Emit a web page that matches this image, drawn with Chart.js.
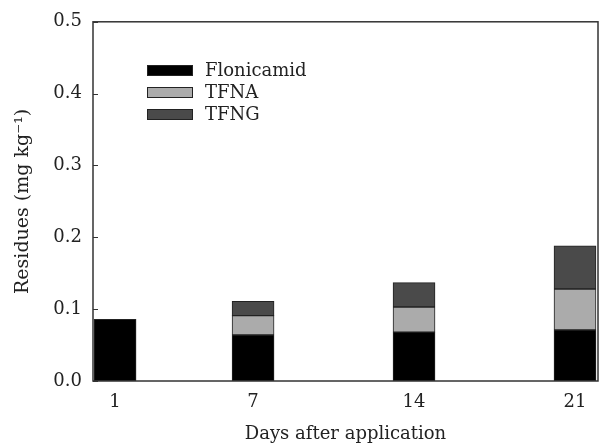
<!DOCTYPE html>
<html>
<head>
<meta charset="utf-8">
<script src="https://cdn.jsdelivr.net/npm/chart.js@4/dist/chart.umd.min.js"></script>
<style>
html,body{margin:0;padding:0;background:#fff;}
#wrap{width:604px;height:445px;}
</style>
</head>
<body>
<div id="wrap"><canvas id="c" width="604" height="445"></canvas></div>
<script>
const days = [1, 7, 14, 21];
const flonicamid = [0.086, 0.064, 0.068, 0.071];
const tfna = [null, 0.027, 0.035, 0.057];
const tfng = [null, 0.020, 0.034, 0.060];
const seriesNames = ['Flonicamid', 'TFNA', 'TFNG'];
const yTicks = [0, 0.1, 0.2, 0.3, 0.4, 0.5];

const FONT = 'DejaVu Serif';
const colors = ['#000000', '#ababab', '#4a4a4a'];

function pts(arr) {
  return days.map((d, i) => ({x: d, y: arr[i]})).filter(p => p.y !== null);
}

const frame = {
  id: 'frame',
  afterDatasetsDraw(chart) {
    const ctx = chart.ctx, a = chart.chartArea;
    const ys = chart.scales.y;
    ctx.save();
    ctx.strokeStyle = '#333';
    ctx.lineWidth = 1.5;
    ctx.strokeRect(a.left, a.top, a.right - a.left, a.bottom - a.top);
    ctx.lineWidth = 1;
    yTicks.forEach(v => {
      const y = Math.round(ys.getPixelForValue(v)) + 0.5;
      ctx.beginPath();
      ctx.moveTo(a.left, y);
      ctx.lineTo(a.left + 5, y);
      ctx.stroke();
    });
    // legend
    ctx.font = '18px "' + FONT + '"';
    ctx.textBaseline = 'middle';
    ctx.textAlign = 'left';
    chart.data.datasets.forEach((ds, i) => {
      const cy = 70 + i * 22;
      ctx.fillStyle = ds.backgroundColor;
      ctx.fillRect(147, cy - 5, 46, 10);
      ctx.strokeStyle = '#222';
      ctx.lineWidth = 1;
      ctx.strokeRect(147.5, cy - 5 + 0.5, 45, 10);
      ctx.fillStyle = '#222';
      ctx.fillText(ds.label, 205, cy + 1);
    });
    ctx.restore();
  }
};

new Chart(document.getElementById('c'), {
  type: 'bar',
  data: {
    datasets: [
      {label: seriesNames[0], data: pts(flonicamid), backgroundColor: colors[0]},
      {label: seriesNames[1], data: pts(tfna), backgroundColor: colors[1]},
      {label: seriesNames[2], data: pts(tfng), backgroundColor: colors[2]}
    ].map(d => Object.assign(d, {borderColor: '#222', borderWidth: 1, barThickness: 42, borderSkipped: false}))
  },
  options: {
    responsive: false,
    animation: false,
    devicePixelRatio: 1,
    layout: {padding: {left: 0, right: 6, top: 18, bottom: 0}},
    plugins: {legend: {display: false}, tooltip: {enabled: false}},
    scales: {
      x: {
        type: 'linear',
        stacked: true,
        offset: false,
        min: 0.04,
        max: 22,
        afterBuildTicks(s) { s.ticks = days.map(v => ({value: v})); },
        afterFit(s) { s.height = 64; },
        grid: {display: false, drawTicks: false, offset: false},
        border: {display: false},
        ticks: {font: {family: FONT, size: 18}, color: '#222', padding: 11,
          callback: v => String(v), maxRotation: 0, autoSkip: false},
        title: {display: true, text: 'Days after application', font: {family: FONT, size: 18}, color: '#222', padding: {top: 3, bottom: 0}}
      },
      y: {
        stacked: true,
        min: 0,
        max: 0.5,
        afterBuildTicks(s) { s.ticks = yTicks.map(v => ({value: v})); },
        afterFit(s) { s.width = 93; },
        grid: {display: false, drawTicks: false},
        border: {display: false},
        ticks: {font: {family: FONT, size: 18}, color: '#222', padding: 11,
          callback: v => v.toFixed(1)},
        title: {display: true, text: 'Residues (mg kg⁻¹)', font: {family: FONT, size: 19}, color: '#222', padding: {top: 12, bottom: 0}}
      }
    }
  },
  plugins: [frame]
});
</script>
</body>
</html>
